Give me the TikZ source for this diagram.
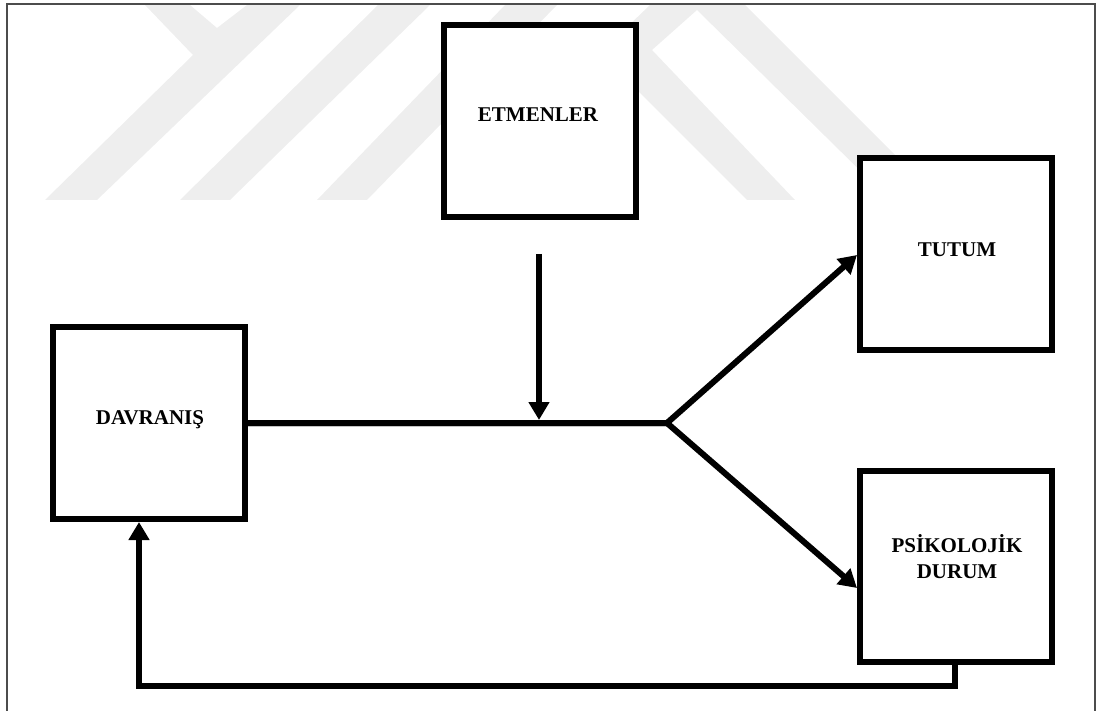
\documentclass[tikz,border=0pt]{standalone}
\usepackage{fontspec}
\setmainfont{Liberation Serif}
\usetikzlibrary{arrows.meta,calc}
\definecolor{wmgray}{gray}{0.935}
\definecolor{framegray}{gray}{0.3}
\begin{document}
\begin{tikzpicture}[x=1pt,y=-1pt,
  box/.style={draw, fill=white, line width=6pt, minimum width=192pt, minimum height=192pt, inner sep=0pt},
  lbl/.style={font=\fontsize{21}{26}\selectfont\bfseries, align=center, inner sep=0pt},
  conn/.style={line width=6pt, line join=miter},
  tip/.style={-{Triangle[length=18pt,width=20pt]}},
]
\useasboundingbox (0,0) rectangle (1100,711);
\begin{scope}
  \clip (0,0) rectangle (1100,711);
  % faint background emblem
  \fill[wmgray] (145,5) -- (190,5) -- (217,28) -- (247,5) -- (300,5) -- (97,200) -- (45,200) -- (193,55) -- cycle;
  \fill[wmgray] (378,5) -- (430,5) -- (230,200) -- (180,200) -- cycle;
  \fill[wmgray] (505,5) -- (557,5) -- (367,200) -- (317,200) -- cycle;
  \fill[wmgray] (650,5) -- (745,5) -- (940,200) -- (890,200) -- (697,10) -- (652,50) -- (795,200) -- (747,200) -- (600,53) -- cycle;
  % outer frame
  \draw[framegray, line width=1.5pt] (7,4) rectangle (1095,740);
\end{scope}

% boxes
\node[box] (etm) at (540,121.5) {};
\node[box] (tut) at (956,254) {};
\node[box] (dav) at (149,423) {};
\node[box, minimum height=191pt] (psi) at (956,566.5) {};

% labels
\node[lbl, anchor=base] (etmT) at (538,122) {ETMENLER};
\node[lbl, anchor=base] (tutT) at (957,257) {TUTUM};
\node[lbl, anchor=base] (davT) at (150,424) {DAVRANIŞ};
\node[lbl] (psiT) at (957,557) {PSİKOLOJİK\\DURUM};

% connectors
\coordinate (fork) at (667,423);
\coordinate (src) at (539,254);
\coordinate (hit) at (539,420);
\draw[conn] (dav.east) -- (fork);
\draw[conn, tip] (src) -- (hit);
\draw[conn, tip] (dav.east) -- (fork) -- ([yshift=-1pt]tut.west);
\draw[conn, tip] (dav.east) -- (fork) -- ([yshift=-21.5pt]psi.west);
\draw[conn, tip] ([xshift=-1pt]psi.south) -- ++(0,21) -| ([xshift=-10pt]dav.south);
\end{tikzpicture}
\end{document}
